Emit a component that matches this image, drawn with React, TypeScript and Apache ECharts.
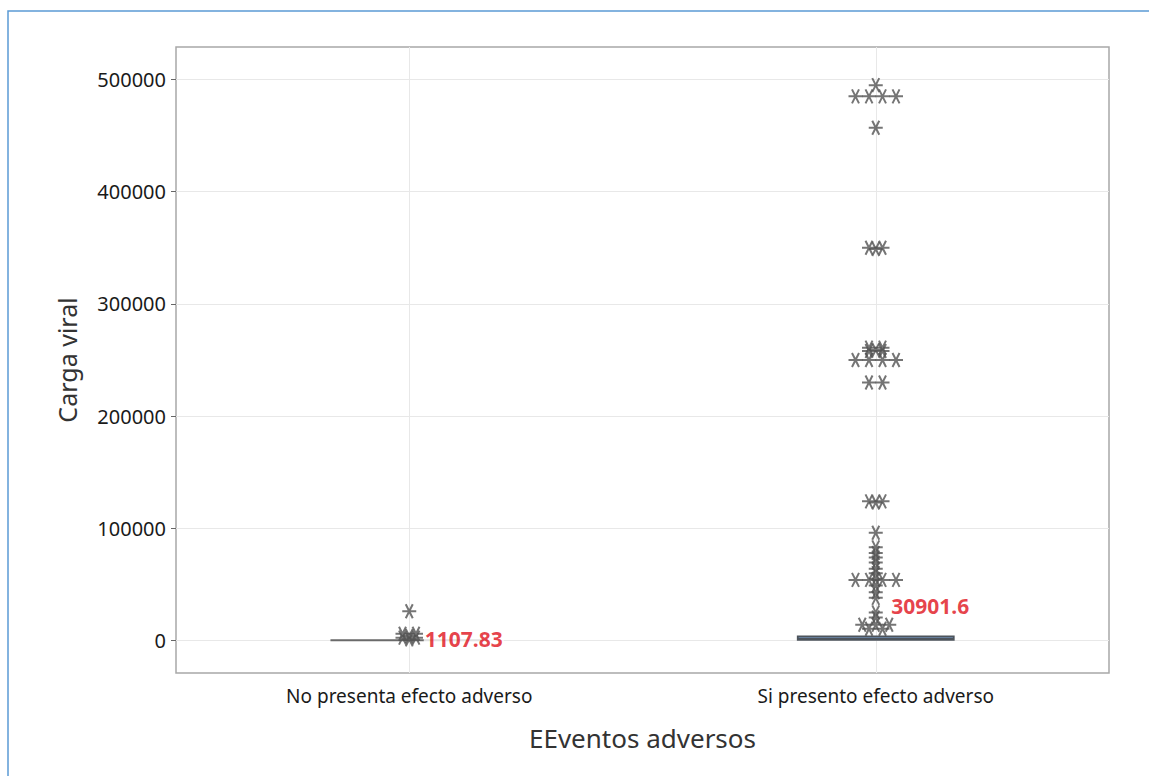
import React, { useEffect, useRef } from "react";
import * as echarts from "echarts";

const categories = ["No presenta efecto adverso", "Si presento efecto adverso"];
const noValues = [26000, 6000, 6000, 4000, 2500, 2500, 1000];
const siValues = [
  495000, 485000, 485000, 485000, 485000, 457000,
  350000, 350000, 349000,
  261000, 261000, 259000, 258000, 258000,
  250000, 250000, 250000, 250000,
  230000, 230000,
  124000, 124000, 123000,
  96000, 83000, 78000, 74000, 69500, 64000, 60000,
  55000, 54000, 54000, 54000, 54000,
  49000, 43000, 38000, 25000, 20500,
  14000, 14000, 14000, 10500, 10500,
];
// boxplot stats: [min, Q1, median, Q3, max]
const noBox = [0, 0, 150, 350, 350];
const siBox = [500, 500, 1500, 3600, 3600];
const means = [1107.83, 30901.6];
const meanLabels = ["1107.83", "30901.6"];
const yTicks = [0, 100000, 200000, 300000, 400000, 500000];

const FONT = "'Noto Sans', 'Open Sans', sans-serif";
const GRID = { left: 176, top: 47, right: 40, bottom: 103 };
const WIDTH = 1149;
const HEIGHT = 776;
const PLOT_W = WIDTH - GRID.left - GRID.right;
const STEP = 13.5 / (PLOT_W / 2);
const STAR = "path://M0,7 L14,7 M3.5,0.94 L10.5,13.06 M10.5,0.94 L3.5,13.06";

function stackPoints(values: number[], center: number) {
  const counts = new Map<number, number>();
  values.forEach((v) => counts.set(v, (counts.get(v) || 0) + 1));
  const seen = new Map<number, number>();
  return values.map((v) => {
    const k = counts.get(v) || 1;
    const i = seen.get(v) || 0;
    seen.set(v, i + 1);
    return [center + (i - (k - 1) / 2) * STEP, v];
  });
}

export default function App() {
  const ref = useRef<HTMLDivElement>(null);
  useEffect(() => {
    if (!ref.current) return;
    const chart = echarts.init(ref.current, null, { renderer: "svg" });
    const starStyle = {
      color: "#525252",
      borderColor: "#525252",
      borderWidth: 2,
    };
    chart.setOption({
      animation: false,
      backgroundColor: "#fff",
      textStyle: { fontFamily: FONT },
      graphic: [
        {
          type: "rect",
          shape: { x: 8, y: 11, width: 1300, height: 900 },
          style: { fill: "none", stroke: "#5b9bd5", lineWidth: 1.5 },
          silent: true,
          z: 100,
        },
      ],
      grid: {
        ...GRID,
        show: true,
        borderColor: "#a8a8a8",
        borderWidth: 1.5,
        backgroundColor: "#fff",
      },
      xAxis: [
        {
          type: "category",
          data: categories,
          axisLine: { show: false },
          axisTick: { show: true, alignWithLabel: true, length: 5, lineStyle: { color: "#666" } },
          axisLabel: { fontSize: 19, color: "#1a1a1a", margin: 13, fontFamily: FONT },
          splitLine: { show: false },
          name: "EEventos adversos",
          nameLocation: "middle",
          nameGap: 52,
          nameTextStyle: { fontSize: 26, color: "#333", fontFamily: FONT },
        },
        { type: "value", min: 0, max: 2, show: false },
      ],
      yAxis: {
        type: "value",
        min: -29000,
        max: 529000,
        axisLine: { show: false },
        axisTick: { show: true, length: 5, lineStyle: { color: "#666" }, customValues: yTicks },
        axisLabel: {
          fontSize: 20,
          color: "#1a1a1a",
          margin: 10,
          fontFamily: FONT,
          customValues: yTicks,
          formatter: (v: number) => String(v),
        },
        splitLine: { show: true, lineStyle: { color: "#e8e8e8", width: 1 } },
        name: "Carga viral",
        nameLocation: "middle",
        nameGap: 97,
        nameTextStyle: { fontSize: 25, color: "#333", fontFamily: FONT },
      },
      series: [
        {
          type: "boxplot",
          xAxisIndex: 0,
          yAxisIndex: 0,
          boxWidth: [156, 156],
          z: 3,
          data: [
            { value: noBox, itemStyle: { color: "#888", borderColor: "#6a6a6a", borderWidth: 1.6 } },
            { value: siBox, itemStyle: { color: "#6f8db0", borderColor: "#4d545c", borderWidth: 1.8 } },
          ],
          markLine: {
            silent: true,
            symbol: ["none", "none"],
            label: { show: false },
            lineStyle: { color: "#e8e8e8", type: "solid", width: 1 },
            data: categories.map((c) => ({ xAxis: c })),
            z: 1,
          },
        },
        {
          type: "scatter",
          xAxisIndex: 1,
          symbol: STAR,
          symbolSize: 14,
          itemStyle: starStyle,
          z: 4,
          data: stackPoints(noValues, 0.5),
        },
        {
          type: "scatter",
          xAxisIndex: 1,
          symbol: STAR,
          symbolSize: 14,
          itemStyle: starStyle,
          z: 4,
          data: stackPoints(siValues, 1.5),
        },
        {
          type: "scatter",
          xAxisIndex: 1,
          symbol: "circle",
          symbolSize: 1,
          itemStyle: { color: "rgba(0,0,0,0)" },
          z: 5,
          label: {
            show: true,
            position: "right",
            distance: 14,
            color: "#e0101a",
            fontWeight: "bold",
            fontSize: 21,
            fontFamily: FONT,
            backgroundColor: "#fff",
            padding: [0, 1],
            formatter: (p: any) => meanLabels[p.dataIndex],
          },
          data: means.map((m, i) => [0.5 + i, m]),
        },
      ],
    });
    return () => chart.dispose();
  }, []);
  return (
    <div
      ref={ref}
      style={{ position: "absolute", left: 0, top: 0, width: WIDTH, height: HEIGHT }}
    />
  );
}
